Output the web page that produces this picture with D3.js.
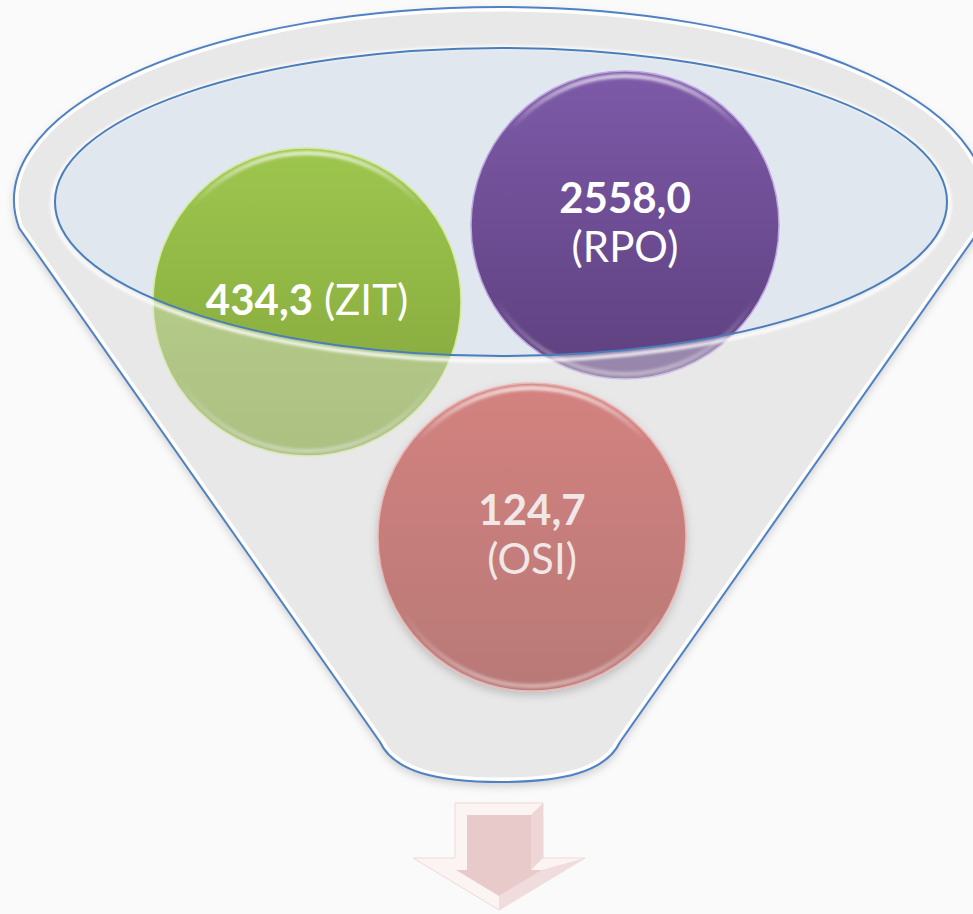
<!DOCTYPE html>
<html>
<head>
<meta charset="utf-8">
<script src="https://cdn.jsdelivr.net/npm/d3@7/dist/d3.min.js"></script>
<style>
  html, body { margin: 0; padding: 0; background: #fafafa; }
  svg { display: block; }
</style>
</head>
<body>
<div id="chart"></div>
<script>
// Data: what goes into the funnel
var categories = ["ZIT", "RPO", "OSI"];
var values = [434.3, 2558.0, 124.7];

// Layout (kept apart from the data)
var width = 973;
var height = 914;
var circleCenters = [[307, 302], [625, 225], [532, 537]];
var circleRadius = 154;
var textModes = ["inline", "stacked", "stacked"];
var behindFace = [true, true, false];

// funnel geometry
var rim = { cx: 500, cy: 200, rx: 486, ry: 193 };
var mouth = { cx: 501, cy: 202, rx: 446, ry: 154 };
var sideTopY = 228;
var bottomY = 742;
var bottomLeftX = 380;
var bottomRightX = 620;
var bottomDip = 782;

// arrow geometry
var arrow = { cx: 499, top: 803, shaftHalf: 44, headTop: 858, headHalf: 86, tip: 910, bevel: 12 };

// comma as decimal mark
var locale = d3.formatLocale({ decimal: ",", thousands: "", grouping: [3], currency: ["", ""] });
var fmt = locale.format(".1f");

// scales: category -> position / colour
var centerScale = d3.scaleOrdinal().domain(categories).range(circleCenters);
var topColor = d3.scaleOrdinal().domain(categories).range(["#9dc64e", "#7d5aa8", "#d3827f"]);
var bottomColor = d3.scaleOrdinal().domain(categories).range(["#82a43a", "#5e407f", "#b87977"]);
var rimColor = d3.scaleOrdinal().domain(categories).range(["#d2ea9c", "#bea6e0", "#eab7b5"]);
var textColor = d3.scaleOrdinal().domain(categories).range(["#ffffff", "#ffffff", "#f1e7e7"]);

var data = categories.map(function(c, i) {
  return { cat: c, value: values[i], mode: textModes[i], behind: behindFace[i] };
});

var svg = d3.select("#chart")
  .append("svg")
  .attr("width", width)
  .attr("height", height);

svg.append("rect")
  .attr("width", width)
  .attr("height", height)
  .attr("fill", "#fafafa");

var defs = svg.append("defs");

// gradients for the balls
data.forEach(function(d) {
  var g = defs.append("linearGradient")
    .attr("id", "grad" + d.cat)
    .attr("x1", 0).attr("y1", 0).attr("x2", 0).attr("y2", 1);
  g.append("stop").attr("offset", "0%").attr("stop-color", topColor(d.cat));
  g.append("stop").attr("offset", "100%").attr("stop-color", bottomColor(d.cat));
});

var hl = defs.append("linearGradient")
  .attr("id", "hl")
  .attr("x1", 0).attr("y1", 0).attr("x2", 0).attr("y2", 1);
hl.append("stop").attr("offset", "0%").attr("stop-color", "#fff").attr("stop-opacity", 0.75);
hl.append("stop").attr("offset", "18%").attr("stop-color", "#fff").attr("stop-opacity", 0);
hl.append("stop").attr("offset", "75%").attr("stop-color", "#fff").attr("stop-opacity", 0);
hl.append("stop").attr("offset", "100%").attr("stop-color", "#fff").attr("stop-opacity", 0.45);

var blur = defs.append("filter").attr("id", "soft");
blur.append("feGaussianBlur").attr("stdDeviation", 1.4);

var shadow = defs.append("filter").attr("id", "shadow")
  .attr("x", "-10%").attr("y", "-10%").attr("width", "120%").attr("height", "130%");
shadow.append("feDropShadow")
  .attr("dx", 0).attr("dy", 4).attr("stdDeviation", 4)
  .attr("flood-color", "#000").attr("flood-opacity", 0.18);

// funnel body outline
function bodyPath() {
  var dx = rim.rx * Math.sqrt(1 - Math.pow((sideTopY - rim.cy) / rim.ry, 2));
  var p = d3.path();
  p.moveTo(rim.cx - dx, sideTopY);
  // upper arc of rim drawn with svg arc command below
  var s = "M" + (rim.cx - dx) + "," + sideTopY +
    "A" + rim.rx + "," + rim.ry + " 0 1 1 " + (rim.cx + dx) + "," + sideTopY +
    "L" + bottomRightX + "," + bottomY +
    "C" + (bottomRightX - 14) + "," + (bottomY + 30) + " " + (rim.cx + 62) + "," + bottomDip + " " + rim.cx + "," + bottomDip +
    "C" + (rim.cx - 62) + "," + bottomDip + " " + (bottomLeftX + 14) + "," + (bottomY + 30) + " " + bottomLeftX + "," + bottomY +
    "Z";
  return s;
}

function ellipsePath(e) {
  return "M" + (e.cx - e.rx) + "," + e.cy +
    "A" + e.rx + "," + e.ry + " 0 1 0 " + (e.cx + e.rx) + "," + e.cy +
    "A" + e.rx + "," + e.ry + " 0 1 0 " + (e.cx - e.rx) + "," + e.cy + "Z";
}

defs.append("clipPath").attr("id", "bodyClip")
  .append("path").attr("d", bodyPath());

// back of funnel
svg.append("path")
  .attr("d", bodyPath())
  .attr("fill", "#e8e8e8")
  .attr("filter", "url(#shadow)");

svg.append("path")
  .attr("d", ellipsePath(mouth))
  .attr("fill", "#e1e7ef");

// balls
function drawBall(sel) {
  sel.append("circle")
    .attr("cx", function(d) { return centerScale(d.cat)[0]; })
    .attr("cy", function(d) { return centerScale(d.cat)[1]; })
    .attr("r", circleRadius)
    .attr("fill", function(d) { return "url(#grad" + d.cat + ")"; })
    .attr("stroke", function(d) { return rimColor(d.cat); })
    .attr("stroke-width", 1.5);
  sel.append("circle")
    .attr("cx", function(d) { return centerScale(d.cat)[0]; })
    .attr("cy", function(d) { return centerScale(d.cat)[1]; })
    .attr("r", circleRadius - 5)
    .attr("fill", "none")
    .attr("stroke", "url(#hl)")
    .attr("stroke-width", 4)
    .attr("filter", "url(#soft)");
}

var backBalls = svg.append("g")
  .selectAll("g")
  .data(data.filter(function(d) { return d.behind; }))
  .enter()
  .append("g");
drawBall(backBalls);

// front face of funnel, see-through over the balls
svg.append("path")
  .attr("d", bodyPath() + ellipsePath(mouth))
  .attr("fill-rule", "evenodd")
  .attr("fill", "#e8e8e8")
  .attr("opacity", 0.42);

// bevel light inside the outline
svg.append("path")
  .attr("d", bodyPath())
  .attr("fill", "none")
  .attr("stroke", "#ffffff")
  .attr("stroke-width", 9)
  .attr("clip-path", "url(#bodyClip)");

svg.append("path")
  .attr("d", bodyPath())
  .attr("fill", "none")
  .attr("stroke", "#4f81c4")
  .attr("stroke-width", 2);

// mouth rim
svg.append("path")
  .attr("d", ellipsePath({ cx: mouth.cx, cy: mouth.cy + 2, rx: mouth.rx + 3, ry: mouth.ry + 3 }))
  .attr("fill", "none")
  .attr("stroke", "#ffffff")
  .attr("stroke-width", 3)
  .attr("filter", "url(#soft)");

svg.append("path")
  .attr("d", ellipsePath(mouth))
  .attr("fill", "none")
  .attr("stroke", "#4a7ebb")
  .attr("stroke-width", 2);

var frontBalls = svg.append("g")
  .selectAll("g")
  .data(data.filter(function(d) { return !d.behind; }))
  .enter()
  .append("g")
  .attr("filter", "url(#shadow)");
drawBall(frontBalls);

// labels
var labels = svg.append("g")
  .attr("font-family", "Lato, 'Open Sans', sans-serif")
  .attr("font-size", 42)
  .attr("text-anchor", "middle")
  .selectAll("text")
  .data(data)
  .enter()
  .append("text")
  .attr("fill", function(d) { return textColor(d.cat); })
  .attr("x", function(d) { return centerScale(d.cat)[0]; })
  .attr("y", function(d) {
    return centerScale(d.cat)[1] + (d.mode === "inline" ? 13 : -12);
  });

labels.each(function(d) {
  var t = d3.select(this);
  var c = centerScale(d.cat);
  t.append("tspan")
    .attr("font-weight", "bold")
    .text(fmt(d.value));
  if (d.mode === "inline") {
    t.append("tspan").text(" (" + d.cat + ")");
  } else {
    t.append("tspan")
      .attr("x", c[0])
      .attr("dy", 49)
      .text("(" + d.cat + ")");
  }
});

// arrow under the funnel
var a = arrow;
var outer = [
  [a.cx - a.shaftHalf, a.top], [a.cx + a.shaftHalf, a.top],
  [a.cx + a.shaftHalf, a.headTop], [a.cx + a.headHalf, a.headTop],
  [a.cx, a.tip], [a.cx - a.headHalf, a.headTop],
  [a.cx - a.shaftHalf, a.headTop]
];
// inner face, inset by the bevel
var slope = (a.tip - a.headTop) / a.headHalf;
var nrm = Math.sqrt(1 + slope * slope);
var innerWingY = a.headTop + a.bevel;
var innerTip = a.tip - a.bevel * nrm;
var innerWing = (innerTip - innerWingY) / slope;
var inner = [
  [a.cx - a.shaftHalf + a.bevel, a.top + a.bevel], [a.cx + a.shaftHalf - a.bevel, a.top + a.bevel],
  [a.cx + a.shaftHalf - a.bevel, innerWingY], [a.cx + innerWing, innerWingY],
  [a.cx, innerTip], [a.cx - innerWing, innerWingY],
  [a.cx - a.shaftHalf + a.bevel, innerWingY]
];
var line = d3.line();

var ag = svg.append("g");
ag.append("path")
  .attr("d", line(outer) + "Z")
  .attr("fill", "#fcf3f3")
  .attr("stroke", "#efd9d9")
  .attr("stroke-width", 1);
// darker facets on the right and lower right
ag.append("path")
  .attr("d", line([outer[1], outer[2], inner[2], inner[1]]) + "Z")
  .attr("fill", "#efd6d6");
ag.append("path")
  .attr("d", line([outer[3], outer[4], inner[4], inner[3]]) + "Z")
  .attr("fill", "#f0dcdc");
ag.append("path")
  .attr("d", line(inner) + "Z")
  .attr("fill", "#e8caca");
</script>
</body>
</html>
